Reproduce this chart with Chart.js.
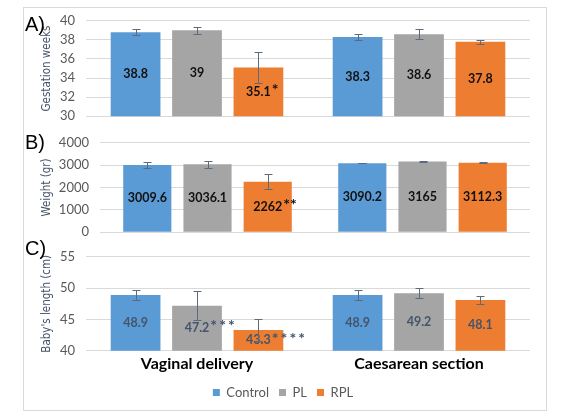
<!DOCTYPE html>
<html>
<head>
<meta charset="utf-8">
<script src="https://cdn.jsdelivr.net/npm/chart.js@4"></script>
<style>
  body { margin: 0; background: #fff; width: 572px; height: 418px; position: relative; overflow: hidden; font-family: Lato, 'Liberation Sans', sans-serif; }
  #frame { position: absolute; left: 23px; top: 7px; width: 522px; height: 402px; border: 1px solid #d9d9d9; }
  canvas { position: absolute; left: 0; }
  .tag { position: absolute; left: 25px; font-family: 'Liberation Sans', Arial, sans-serif; font-size: 20px; color: #000; line-height: 1; }
</style>
</head>
<body>
<div id="frame"></div>
<canvas id="chartA" width="572" height="133" style="top:2px"></canvas>
<canvas id="chartB" width="572" height="127" style="top:124px"></canvas>
<canvas id="chartC" width="572" height="179" style="top:238px"></canvas>
<div class="tag" style="top:14px">A)</div>
<div class="tag" style="top:132px">B)</div>
<div class="tag" style="top:238px">C)</div>
<script>
// groups on the x axis
const groups = ['Vaginal delivery', 'Caesarean section'];
const seriesNames = ['Control', 'PL', 'RPL'];
const seriesColors = ['#5B9BD5', '#A5A5A5', '#ED7D31'];

// A) gestation weeks
const gestControl = [38.8, 38.3];
const gestPL = [39, 38.6];
const gestRPL = [35.1, 37.8];
const gestErrControl = [0.3, 0.35];
const gestErrPL = [0.4, 0.55];
const gestErrRPL = [1.6, 0.2];
const gestMarksRPL = ['*', ''];

// B) weight (gr)
const weightControl = [3009.6, 3090.2];
const weightPL = [3036.1, 3165];
const weightRPL = [2262, 3112.3];
const weightErrControl = [150, 15];
const weightErrPL = [170, 15];
const weightErrRPL = [330, 15];
const weightMarksRPL = ['**', ''];

// C) baby's length (cm)
const lengthControl = [48.9, 48.9];
const lengthPL = [47.2, 49.2];
const lengthRPL = [43.3, 48.1];
const lengthErrControl = [0.8, 0.8];
const lengthErrPL = [2.3, 0.8];
const lengthErrRPL = [1.8, 0.65];
const lengthMarksPL = ['***', ''];
const lengthMarksRPL = ['****', ''];

// draws value labels and error bars on every bar
const barExtras = {
  id: 'barExtras',
  afterDatasetsDraw(chart, args, opts) {
    const ctx = chart.ctx;
    const y = chart.scales.y;
    chart.data.datasets.forEach((ds, i) => {
      const meta = chart.getDatasetMeta(i);
      meta.data.forEach((bar, j) => {
        const v = ds.data[j];
        const base = Math.min(bar.base, chart.chartArea.bottom);
        const mid = (bar.y + base) / 2;
        ctx.save();
        ctx.font = opts.font;
        ctx.fillStyle = opts.color;
        ctx.textBaseline = 'middle';
        ctx.textAlign = 'center';
        const txt = String(v);
        ctx.fillText(txt, bar.x, mid);
        const mark = ds.marks ? ds.marks[j] : '';
        if (mark) {
          // stars sit a little higher, like superscript
          const w = ctx.measureText(txt).width;
          ctx.textAlign = 'left';
          ctx.font = 'bold 16px Lato, sans-serif';
          ctx.letterSpacing = opts.starSpacing;
          ctx.fillText(mark, bar.x + w / 2 + 1, mid - 2);
        }
        // error bar
        const e = ds.errors[j];
        const top = Math.round(y.getPixelForValue(v + e)) + 0.5;
        const bot = Math.round(y.getPixelForValue(v - e)) + 0.5;
        const x = Math.round(bar.x) + 0.5;
        ctx.strokeStyle = '#5d6a7c';
        ctx.lineWidth = 1;
        ctx.beginPath();
        ctx.moveTo(x, top);
        ctx.lineTo(x, bot);
        ctx.moveTo(x - 4, top);
        ctx.lineTo(x + 4, top);
        ctx.moveTo(x - 4, bot);
        ctx.lineTo(x + 4, bot);
        ctx.stroke();
        ctx.restore();
      });
    });
  }
};

function makeDatasets(values, errors, marks, catPct, barPct) {
  return seriesNames.map((name, i) => ({
    label: name,
    data: values[i],
    errors: errors[i],
    marks: marks[i],
    backgroundColor: seriesColors[i],
    borderColor: seriesColors[i],
    borderWidth: 0,
    categoryPercentage: catPct,
    barPercentage: barPct,
  }));
}

function yAxis(min, max, step, title, width) {
  return {
    min: min,
    max: max,
    ticks: { stepSize: step, color: '#595959', font: { family: 'Lato', size: 13 }, padding: 11, callback: (v) => String(v) },
    grid: { color: '#d9d9d9', drawTicks: false },
    border: { display: false },
    title: { display: true, text: title, color: '#44546A', font: { family: "'Liberation Sans Narrow', 'DejaVu Sans Condensed', sans-serif", size: 11.5 }, padding: { top: 4, bottom: 0 } },
    afterFit(s) { s.width = width; },
  };
}

function makeChart(id, datasets, yOpts, padding, showX, labelColor, starSpacing) {
  return new Chart(document.getElementById(id), {
    type: 'bar',
    data: { labels: groups, datasets: datasets },
    options: {
      responsive: false,
      animation: false,
      layout: { padding: padding },
      plugins: {
        legend: showX ? {
          display: true,
          position: 'bottom',
          labels: { boxWidth: 7, boxHeight: 7, color: '#595959', font: { family: 'Lato', size: 13 }, padding: 10 },
        } : { display: false },
        tooltip: { enabled: false },
        barExtras: { font: 'bold 12.5px Lato, sans-serif', color: labelColor, starSpacing: starSpacing },
      },
      scales: {
        x: {
          display: showX,
          grid: { display: false, drawTicks: false },
          border: { display: false },
          ticks: { color: '#000', font: { family: 'Lato', size: 16, weight: 'bold' }, padding: 3 },
        },
        y: yOpts,
      },
    },
    plugins: [barExtras],
  });
}

makeChart('chartA',
  makeDatasets([gestControl, gestPL, gestRPL], [gestErrControl, gestErrPL, gestErrRPL], [null, null, gestMarksRPL], 0.83, 0.81),
  yAxis(30, 40, 2, 'Gestation weeks', 50),
  { top: 0, bottom: 0, left: 36, right: 42 }, false, '#111', '0px');

makeChart('chartB',
  makeDatasets([weightControl, weightPL, weightRPL], [weightErrControl, weightErrPL, weightErrRPL], [null, null, weightMarksRPL], 0.84, 0.8),
  yAxis(0, 4000, 1000, 'Weight (gr)', 64),
  { top: 0, bottom: 0, left: 36, right: 42 }, false, '#111', '0px');

makeChart('chartC',
  makeDatasets([lengthControl, lengthPL, lengthRPL], [lengthErrControl, lengthErrPL, lengthErrRPL], [null, lengthMarksPL, lengthMarksRPL], 0.83, 0.81),
  yAxis(40, 55, 5, "Baby's length (cm)", 50),
  { top: 0, bottom: 8, left: 36, right: 42 }, true, '#44546A', '2px');
</script>
</body>
</html>
